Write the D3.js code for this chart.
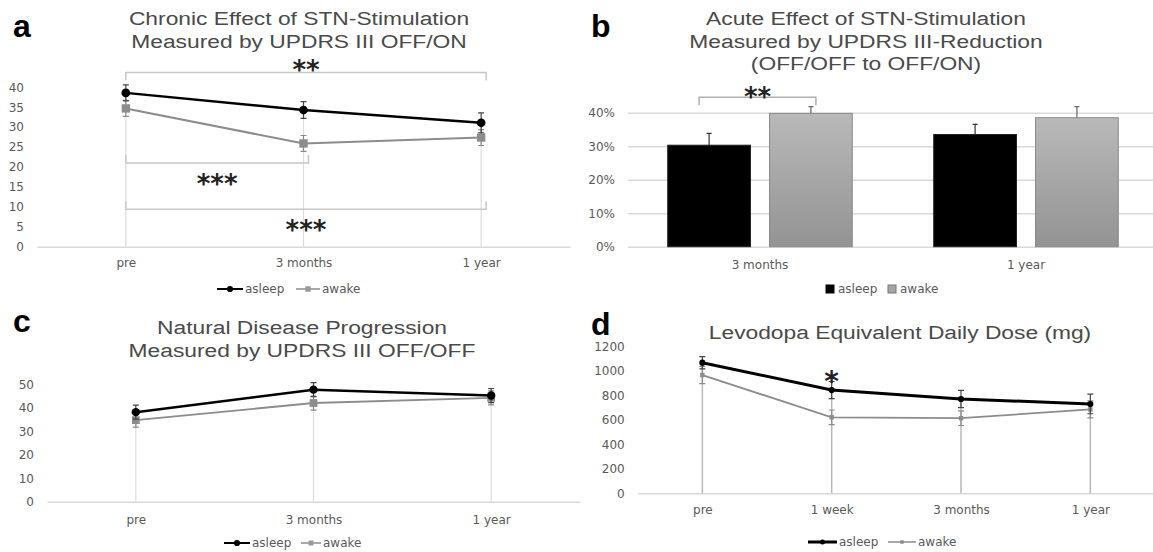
<!DOCTYPE html>
<html>
<head>
<meta charset="utf-8">
<script src="https://cdn.jsdelivr.net/npm/d3@7"></script>
<style>
  body { margin: 0; background: #fff; }
  text { font-family: "DejaVu Sans", sans-serif; }
</style>
</head>
<body>
<svg id="fig" width="1153" height="552"></svg>
<script>
// ---- data ----
const seriesNames = ["asleep", "awake"];

// a: chronic effect, UPDRS III OFF/ON
const catsA = ["pre", "3 months", "1 year"];
const asleepA = [38.6, 34.3, 31.1];
const awakeA = [34.7, 25.9, 27.4];
const asleepErrA = [2, 2.1, 2.5];
const awakeErrA = [2, 2, 2];
const ticksA = [0, 5, 10, 15, 20, 25, 30, 35, 40];
const sigA = [
  {from: "pre", to: "1 year", level: 43.7, dir: 1, label: "**"},
  {from: "pre", to: "3 months", level: 21, dir: -1, label: "***"},
  {from: "pre", to: "1 year", level: 9.4, dir: -1, label: "***"}
];

// b: acute effect, UPDRS III reduction
const catsB = ["3 months", "1 year"];
const asleepB = [0.303, 0.335];
const awakeB = [0.398, 0.385];
const asleepErrB = [0.035, 0.03];
const awakeErrB = [0.02, 0.033];
const ticksB = [0, 0.1, 0.2, 0.3, 0.4];

// c: natural disease progression, UPDRS III OFF/OFF
const catsC = ["pre", "3 months", "1 year"];
const asleepC = [38.2, 47.8, 45.3];
const awakeC = [34.8, 42.1, 44.3];
const asleepErrC = [3, 3, 3];
const awakeErrC = [3, 3, 3];
const ticksC = [0, 10, 20, 30, 40, 50];

// d: levodopa equivalent daily dose
const catsD = ["pre", "1 week", "3 months", "1 year"];
const asleepD = [1069, 845, 772, 731];
const awakeD = [968, 622, 615, 687];
const asleepErrD = [50, 70, 70, 80];
const awakeErrD = [70, 60, 60, 70];
const ticksD = [0, 200, 400, 600, 800, 1000, 1200];

const svg = d3.select("#fig");
const txtGrey = "#595959";
const axisGrey = "#d9d9d9";

function title(lines, cx, y0) {
  lines.forEach((t, i) => {
    svg.append("text")
      .attr("transform", `translate(${cx},${y0 + i * 22.5}) scale(1.2,1)`)
      .attr("text-anchor", "middle")
      .style("font-family", "'Liberation Sans', Arial, sans-serif")
      .attr("font-size", 19)
      .attr("fill", "#4a4a4a")
      .text(t);
  });
}

function letter(t, x, y) {
  svg.append("text")
    .attr("x", x).attr("y", y)
    .style("font-family", "'Liberation Sans', Arial, sans-serif")
    .attr("font-weight", "bold")
    .attr("font-size", 32)
    .text(t);
}

function stars(g, label, cx, cy, size) {
  g.append("text")
    .attr("x", cx).attr("y", cy + size * 0.58)
    .attr("text-anchor", "middle")
    .attr("font-weight", "bold")
    .attr("font-size", size)
    .attr("fill", "#222")
    .text(label);
}

function lineLegend(g, y, xs, styles) {
  seriesNames.forEach((s, i) => {
    const st = styles[i];
    const x0 = xs[i];
    g.append("line").attr("x1", x0).attr("x2", x0 + st.len)
      .attr("y1", y).attr("y2", y)
      .attr("stroke", st.color).attr("stroke-width", st.w);
    g.append("path")
      .attr("transform", `translate(${x0 + st.len / 2},${y})`)
      .attr("d", d3.symbol(st.shape, st.size)())
      .attr("fill", st.fill);
    g.append("text").attr("x", x0 + st.len + 2).attr("y", y + 4)
      .attr("font-size", 12).attr("fill", txtGrey).text(s);
  });
}

function linePanel(o) {
  const g = svg.append("g");
  const x = d3.scalePoint().domain(o.cats).range([o.left, o.right]).padding(0.5);
  const y = d3.scaleLinear().domain([0, o.max]).range([o.bottom, o.top]);

  // y labels
  g.append("g")
    .attr("transform", `translate(${o.left},0)`)
    .call(d3.axisLeft(y).tickValues(o.ticks).tickSize(0).tickPadding(13).tickFormat(d3.format("d")))
    .call(a => a.select(".domain").remove())
    .call(a => a.selectAll("text").attr("font-size", 12).attr("fill", txtGrey)
      .style("font-family", "'DejaVu Sans', sans-serif"));

  // x axis / baseline
  g.append("g")
    .attr("transform", `translate(0,${o.bottom})`)
    .call(d3.axisBottom(x).tickSize(0).tickPadding(o.xPad))
    .call(a => a.select(".domain").attr("stroke", axisGrey).attr("stroke-width", 1.5))
    .call(a => a.selectAll("text").attr("font-size", 12).attr("fill", txtGrey)
      .style("font-family", "'DejaVu Sans', sans-serif"));

  const rows = o.cats.map((c, i) => ({c, a: o.asleep[i], w: o.awake[i], ea: o.asleepErr[i], ew: o.awakeErr[i]}));

  // drop lines to the baseline
  g.selectAll(".drop").data(rows).join("line")
    .attr("x1", d => x(d.c)).attr("x2", d => x(d.c))
    .attr("y1", d => y(Math.max(d.a, d.w))).attr("y2", o.bottom)
    .attr("stroke", o.dropColor).attr("stroke-width", o.dropW);

  // significance brackets
  (o.sig || []).forEach(b => {
    const x1 = x(b.from), x2 = x(b.to) + 5, yy = y(b.level);
    g.append("path")
      .attr("d", `M${x1},${yy + 8 * b.dir}V${yy}H${x2}V${yy + 8 * b.dir}`)
      .attr("fill", "none").attr("stroke", "#c8c8c8").attr("stroke-width", 1.5);
  });

  const series = [
    {key: "w", err: "ew", color: o.awakeColor, lw: o.awakeW, shape: d3.symbolSquare, size: o.awakeSize, ec: "#8a8a8a"},
    {key: "a", err: "ea", color: "#000", lw: o.asleepW, shape: d3.symbolCircle, size: o.asleepSize, ec: "#444"}
  ];
  series.forEach(s => {
    // error bars
    g.selectAll(null).data(rows).join("path")
      .attr("d", d => {
        const cx = x(d.c), t = y(d[s.key] + d[s.err]), b = y(d[s.key] - d[s.err]);
        return `M${cx - 3},${t}H${cx + 3}M${cx},${t}V${b}M${cx - 3},${b}H${cx + 3}`;
      })
      .attr("fill", "none").attr("stroke", s.ec).attr("stroke-width", 1.2);
    g.append("path").datum(rows)
      .attr("d", d3.line().x(d => x(d.c)).y(d => y(d[s.key])))
      .attr("fill", "none").attr("stroke", s.color).attr("stroke-width", s.lw);
    g.selectAll(null).data(rows).join("path")
      .attr("transform", d => `translate(${x(d.c)},${y(d[s.key])})`)
      .attr("d", d3.symbol(s.shape, s.size)())
      .attr("fill", s.color);
  });

  return {g, x, y};
}

// ---------- panel a ----------
letter("a", 13, 37);
title(["Chronic Effect of STN-Stimulation", "Measured by UPDRS III OFF/ON"], 299, 25);
const pa = linePanel({
  cats: catsA, asleep: asleepA, awake: awakeA, asleepErr: asleepErrA, awakeErr: awakeErrA,
  ticks: ticksA, max: 40, left: 37, right: 570, top: 87.3, bottom: 246.7, xPad: 12,
  dropColor: "#dcdcdc", dropW: 1.2, awakeColor: "#8c8c8c", awakeW: 2, asleepW: 2.5,
  awakeSize: 70, asleepSize: 60, sig: sigA
});
sigA.forEach(b => {
  const cx = (pa.x(b.from) + pa.x(b.to) + 5) / 2;
  const cy = b.dir > 0 ? pa.y(b.level) - 9 : pa.y(b.level) + 15;
  stars(pa.g, b.label, cx, cy, 26);
});
lineLegend(pa.g, 289, [217, 296], [
  {len: 26, color: "#000", w: 2, shape: d3.symbolCircle, size: 30, fill: "#000"},
  {len: 24, color: "#8c8c8c", w: 1.5, shape: d3.symbolSquare, size: 30, fill: "#9a9a9a"}
]);

// ---------- panel b ----------
letter("b", 591, 37);
title(["Acute Effect of STN-Stimulation", "Measured by UPDRS III-Reduction", "(OFF/OFF to OFF/ON)"], 866, 25);
{
  const g = svg.append("g");
  const defs = svg.append("defs");
  const grad = defs.append("linearGradient").attr("id", "awakeGrad")
    .attr("x1", 0).attr("x2", 0).attr("y1", 0).attr("y2", 1);
  grad.append("stop").attr("offset", "0%").attr("stop-color", "#b9b9b9");
  grad.append("stop").attr("offset", "100%").attr("stop-color", "#939393");

  const x = d3.scaleBand().domain(catsB).range([627, 1159]);
  const xs = d3.scaleBand().domain(seriesNames).range([0, x.bandwidth()])
    .paddingInner(0.187).paddingOuter(0.4);
  const y = d3.scaleLinear().domain([0, 0.4]).range([246.7, 112.7]);

  g.append("g")
    .attr("transform", "translate(628,0)")
    .call(d3.axisLeft(y).tickValues(ticksB).tickSize(-525).tickPadding(13).tickFormat(d3.format(".0%")))
    .call(a => a.select(".domain").remove())
    .call(a => a.selectAll("line").attr("stroke", axisGrey).attr("stroke-width", 1.5))
    .call(a => a.selectAll("text").attr("font-size", 12).attr("fill", txtGrey)
      .style("font-family", "'DejaVu Sans', sans-serif"));

  g.append("g")
    .attr("transform", "translate(0,246.7)")
    .call(d3.axisBottom(x).tickSize(0).tickPadding(14))
    .call(a => a.select(".domain").remove())
    .call(a => a.selectAll("text").attr("font-size", 12).attr("fill", txtGrey)
      .style("font-family", "'DejaVu Sans', sans-serif"));

  const rows = catsB.flatMap((c, i) => [
    {c, s: "asleep", v: asleepB[i], e: asleepErrB[i]},
    {c, s: "awake", v: awakeB[i], e: awakeErrB[i]}
  ]);
  const bx = d => x(d.c) + xs(d.s);

  g.selectAll(".bar").data(rows).join("rect")
    .attr("x", bx).attr("y", d => y(d.v))
    .attr("width", xs.bandwidth()).attr("height", d => y(0) - y(d.v))
    .attr("fill", d => d.s === "asleep" ? "#000" : "url(#awakeGrad)")
    .attr("stroke", d => d.s === "asleep" ? "#222" : "#8a8a8a");

  g.selectAll(".err").data(rows).join("path")
    .attr("d", d => {
      const cx = bx(d) + xs.bandwidth() / 2;
      return `M${cx},${y(d.v)}V${y(d.v + d.e)}M${cx - 2.5},${y(d.v + d.e)}H${cx + 2.5}`;
    })
    .attr("fill", "none").attr("stroke", d => d.s === "asleep" ? "#333" : "#666").attr("stroke-width", 1.2);

  // significance: 3 months asleep vs awake
  const bL = x("3 months") + xs("asleep") + xs.bandwidth() / 2 - 10;
  const bR = x("3 months") + xs("awake") + xs.bandwidth() / 2 + 5;
  const by = y(0.446);
  g.append("path").attr("d", `M${bL},${by + 8}V${by}H${bR}V${by + 8}`)
    .attr("fill", "none").attr("stroke", "#b0b0b0").attr("stroke-width", 1.5);
  stars(g, "**", (bL + bR) / 2, by - 6, 26);

  // legend
  [826, 888].forEach((lx, i) => {
    g.append("rect").attr("x", lx).attr("y", 285).attr("width", 8).attr("height", 8)
      .attr("fill", i === 0 ? "#000" : "#a5a5a5").attr("stroke", i === 0 ? "#000" : "#777");
    g.append("text").attr("x", lx + 12).attr("y", 293)
      .attr("font-size", 12).attr("fill", txtGrey).text(seriesNames[i]);
  });
}

// ---------- panel c ----------
letter("c", 13, 332);
title(["Natural Disease Progression", "Measured by UPDRS III OFF/OFF"], 302, 334);
const pc = linePanel({
  cats: catsC, asleep: asleepC, awake: awakeC, asleepErr: asleepErrC, awakeErr: awakeErrC,
  ticks: ticksC, max: 50, left: 47, right: 580, top: 384.5, bottom: 501.7, xPad: 14,
  dropColor: "#dcdcdc", dropW: 1.2, awakeColor: "#8c8c8c", awakeW: 1.8, asleepW: 2.5,
  awakeSize: 60, asleepSize: 55
});
lineLegend(pc.g, 543, [224, 301], [
  {len: 26, color: "#000", w: 2, shape: d3.symbolCircle, size: 30, fill: "#000"},
  {len: 20, color: "#8c8c8c", w: 1.5, shape: d3.symbolSquare, size: 25, fill: "#9a9a9a"}
]);

// ---------- panel d ----------
letter("d", 591, 335);
title(["Levodopa Equivalent Daily Dose (mg)"], 900, 339);
const pd = linePanel({
  cats: catsD, asleep: asleepD, awake: awakeD, asleepErr: asleepErrD, awakeErr: awakeErrD,
  ticks: ticksD, max: 1200, left: 637.7, right: 1155, top: 346.7, bottom: 493.3, xPad: 12.5,
  dropColor: "#b8b8b8", dropW: 1.5, awakeColor: "#8c8c8c", awakeW: 1.8, asleepW: 3,
  awakeSize: 20, asleepSize: 30
});
stars(pd.g, "*", pd.x("1 week"), 375, 28);
lineLegend(pd.g, 542, [808, 888], [
  {len: 29, color: "#000", w: 3, shape: d3.symbolCircle, size: 20, fill: "#000"},
  {len: 28, color: "#8c8c8c", w: 1.5, shape: d3.symbolSquare, size: 12, fill: "#8c8c8c"}
]);
</script>
</body>
</html>
